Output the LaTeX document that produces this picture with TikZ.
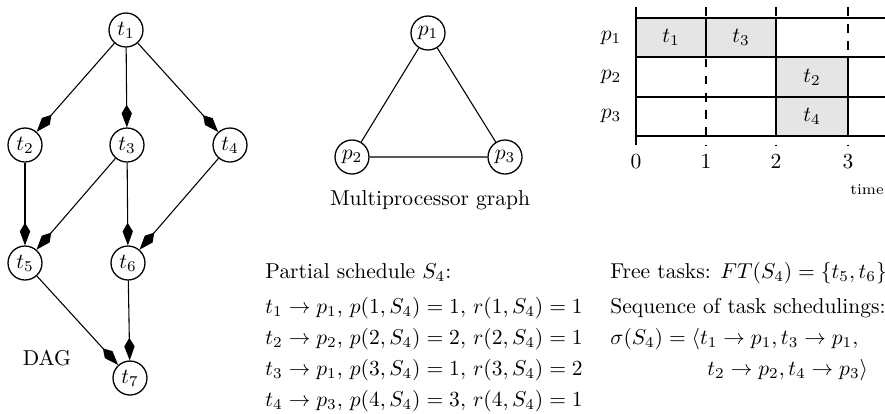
\documentclass[tikz,border=0pt]{standalone}
\usetikzlibrary{arrows.meta}
\begin{document}
\begin{tikzpicture}[x=0.465pt,y=-0.465pt,
  task/.style={draw,circle,line width=0.6pt,inner sep=0pt,minimum size=15.8pt},
  dep/.style={-{Kite[length=10.5pt,width=4.8pt,inset=4pt]},line width=0.5pt},
  slot/.style={draw,fill=gray!20,line width=0.5pt},
  txt/.style={anchor=base west,inner sep=0pt}]
  \useasboundingbox (0,0) rectangle (885,413);
  % DAG
  \node[task] (t1) at (126,30) {$t_1$};
  \node[task] (t2) at (25,145) {$t_2$};
  \node[task] (t3) at (127,145) {$t_3$};
  \node[task] (t4) at (230,145) {$t_4$};
  \node[task] (t5) at (25,263) {$t_5$};
  \node[task] (t6) at (128,263) {$t_6$};
  \node[task] (t7) at (130,378) {$t_7$};
  \draw[dep] (t1) -- (t2);
  \draw[dep] (t1) -- (t3);
  \draw[dep] (t1) -- (t4);
  \draw[dep] (t2) -- (t5);
  \draw[dep] (t3) -- (t5);
  \draw[dep] (t3) -- (t6);
  \draw[dep] (t4) -- (t6);
  \draw[dep] (t5) -- (t7);
  \draw[dep] (t6) -- (t7);
  \node (dag) at (47,358) {DAG};
  % multiprocessor graph
  \node[task] (p1) at (428,33) {$p_1$};
  \node[task] (p2) at (352,157) {$p_2$};
  \node[task] (p3) at (505,157) {$p_3$};
  \draw[line width=0.5pt] (p1) -- (p2) -- (p3) -- (p1);
  \node (mpg) at (430,200) {Multiprocessor graph};
  % schedule chart
  \foreach \y in {18,57,97,136} \draw[line width=0.5pt] (636,\y) -- (885,\y);
  \draw[line width=0.5pt] (636,7) -- (636,145);
  \foreach \x in {706,776,848} \draw[line width=0.5pt,dash pattern=on 4pt off 4pt] (\x,7) -- (\x,145);
  \draw[slot] (636,18) rectangle node {$t_1$} (706,57);
  \draw[slot] (706,18) rectangle node {$t_3$} (776,57);
  \draw[slot] (776,57) rectangle node {$t_2$} (848,97);
  \draw[slot] (776,97) rectangle node {$t_4$} (848,136);
  \node (lp1) at (611,38) {$p_1$};
  \node (lp2) at (611,77) {$p_2$};
  \node (lp3) at (611,116) {$p_3$};
  \node (k0) at (636,162) {$0$};
  \node (k1) at (706,162) {$1$};
  \node (k2) at (776,162) {$2$};
  \node (k3) at (848,162) {$3$};
  \node[font=\scriptsize] (time) at (867,190) {time};
  % partial schedule
  \node[txt] (ps0) at (265,278) {Partial schedule $S_4$:};
  \node[txt] (ps1) at (265,313) {$t_1\rightarrow p_1,\,p(1,S_4)=1,\,r(1,S_4)=1$};
  \node[txt] (ps2) at (265,344) {$t_2\rightarrow p_2,\,p(2,S_4)=2,\,r(2,S_4)=1$};
  \node[txt] (ps3) at (265,375) {$t_3\rightarrow p_1,\,p(3,S_4)=1,\,r(3,S_4)=2$};
  \node[txt] (ps4) at (265,406) {$t_4\rightarrow p_3,\,p(4,S_4)=3,\,r(4,S_4)=1$};
  % free tasks and sequence
  \node[txt] (ft) at (610,278) {Free tasks: $FT(S_4)=\{t_5,t_6\}$};
  \node[txt] (sq) at (610,313) {Sequence of task schedulings:};
  \node[txt] (sg1) at (610,344) {$\sigma(S_4)=\langle t_1\rightarrow p_1,t_3\rightarrow p_1,$};
  \node[txt] (sg2) at (707,375) {$t_2\rightarrow p_2,t_4\rightarrow p_3\rangle$};
\end{tikzpicture}
\end{document}
